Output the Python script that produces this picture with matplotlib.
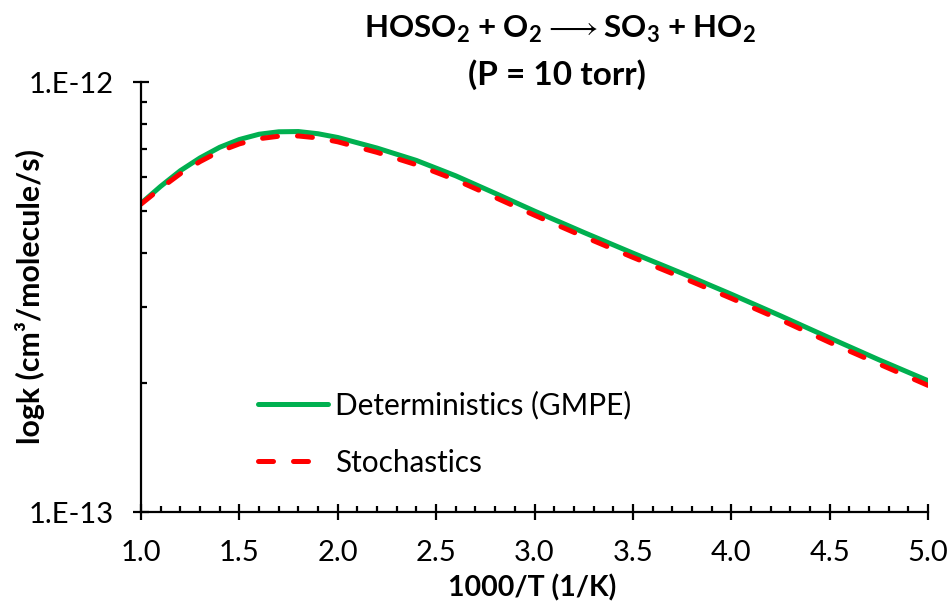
import numpy as np
import matplotlib
matplotlib.use("Agg")
import matplotlib.pyplot as plt
from matplotlib.ticker import MultipleLocator, FixedLocator, LogLocator, NullFormatter

plt.rcParams["font.family"] = ["Lato", "DejaVu Sans"]
plt.rcParams["mathtext.fontset"] = "custom"
plt.rcParams["mathtext.rm"] = "Lato"
plt.rcParams["mathtext.bf"] = "Lato:bold"

# data (1000/T in 1/K, k in cm3/molecule/s)
inv_T = [1.0, 1.1, 1.2, 1.3, 1.4, 1.5, 1.6, 1.7, 1.8, 1.9, 2.0, 2.2, 2.4,
         2.6, 2.8, 3.0, 3.25, 3.5, 3.75, 4.0, 4.25, 4.5, 4.75, 5.0]
k_gmpe = [5.22, 5.72, 6.22, 6.66, 7.05, 7.35, 7.56, 7.66, 7.67, 7.58, 7.43, 7.02,
          6.57, 6.05, 5.51, 5.01, 4.47, 4.00, 3.59, 3.21, 2.86, 2.54, 2.26, 2.02]
k_stoch = [5.20, 5.66, 6.12, 6.53, 6.90, 7.18, 7.38, 7.48, 7.49, 7.41, 7.26, 6.86,
           6.42, 5.92, 5.39, 4.90, 4.37, 3.91, 3.51, 3.14, 2.80, 2.48, 2.21, 1.97]
k_gmpe = np.array(k_gmpe) * 1e-13
k_stoch = np.array(k_stoch) * 1e-13

x_ticks = [1.0, 1.5, 2.0, 2.5, 3.0, 3.5, 4.0, 4.5, 5.0]
y_ticks = [1e-13, 1e-12]
y_ticklabels = ["1.E-13", "1.E-12"]

fig = plt.figure(figsize=(9.52, 6.07), dpi=100)
ax = fig.add_axes([0.1481, 0.1565, 0.8267, 0.7084])

ax.plot(inv_T, k_gmpe, color="#00B050", lw=3.6, label="Deterministics (GMPE)",
        solid_capstyle="round")
ax.plot(inv_T, k_stoch, color="#FF0000", lw=3.6, dashes=(3, 4),
        dash_capstyle="round", label="Stochastics")

ax.set_yscale("log")
ax.set_xlim(1.0, 5.0)
ax.set_ylim(1e-13, 1e-12)

ax.xaxis.set_major_locator(FixedLocator(x_ticks))
ax.xaxis.set_minor_locator(MultipleLocator(0.1))
ax.set_xticklabels([f"{t:.1f}" for t in x_ticks])
ax.yaxis.set_major_locator(FixedLocator(y_ticks))
ax.set_yticklabels(y_ticklabels)
ax.yaxis.set_minor_locator(LogLocator(base=10, subs=np.arange(2, 10)))
ax.yaxis.set_minor_formatter(NullFormatter())

for s in ["top", "right"]:
    ax.spines[s].set_visible(False)
for s in ["left", "bottom"]:
    ax.spines[s].set_linewidth(1.6)

ax.tick_params(which="major", direction="inout", length=11, width=1.6,
               labelsize=21)
ax.tick_params(axis="x", which="major", pad=15)
ax.tick_params(axis="y", which="major", pad=14)
ax.tick_params(which="minor", direction="in", length=4.5, width=1.6)

ax.legend(loc="upper left", bbox_to_anchor=(0.1487, 0.2814),
          bbox_transform=ax.transAxes, frameon=False, fontsize=21.4,
          handlelength=2.36, handletextpad=0.24, labelspacing=0.98,
          borderpad=0, borderaxespad=0)

fig.text(0.5594, 0.031, "1000/T (1/K)", ha="center", va="center",
         fontsize=20.5, fontweight="bold")
fig.text(0.031, 0.5115, "logk (cm³/molecule/s)", ha="center", va="center",
         rotation=90, fontsize=21.8, fontweight="bold")

fig.text(0.588, 0.9374,
         r"HOSO$_\mathbf{2}$ + O$_\mathbf{2}\longrightarrow$SO$_\mathbf{3}$ + HO$_\mathbf{2}$",
         ha="center", va="baseline", fontsize=22.5, fontweight="bold")
fig.text(0.585, 0.86, "(P = 10 torr)", ha="center", va="baseline",
         fontsize=24, fontweight="bold")

fig.savefig("out.png", dpi=100)
